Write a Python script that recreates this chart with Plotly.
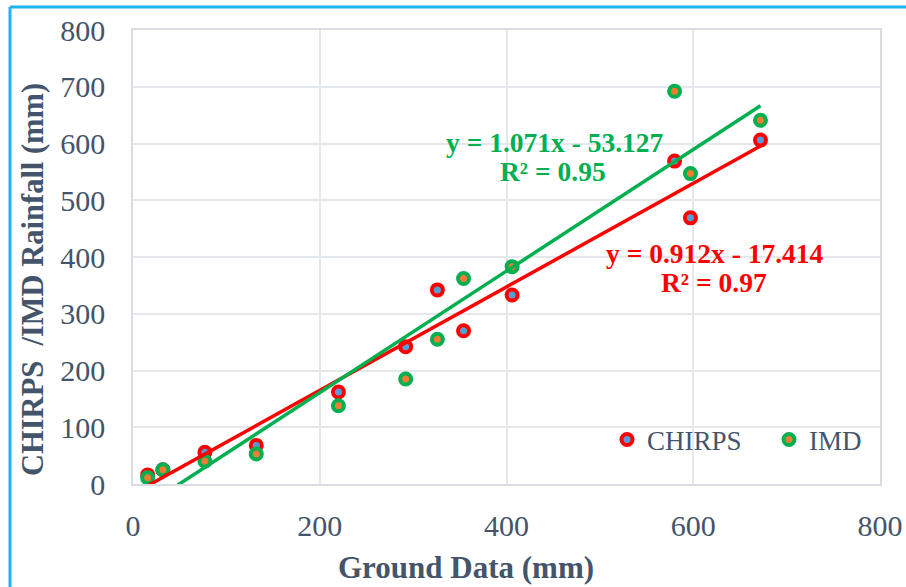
import plotly.graph_objects as go

# ---- data ----
ground = [15.7, 32, 77, 132, 220, 292, 326, 354, 406, 580, 597, 672]
chirps = [16, 25, 56, 68, 162, 242, 342, 270, 333, 569, 469, 606]
imd = [11, 25, 40, 53, 138, 185, 255, 362, 383, 692, 547, 641]

chirps_fit = (0.912, -17.414, 0.97)
imd_fit = (1.071, -53.127, 0.95)

x_ticks = [0, 200, 400, 600, 800]
y_ticks = [0, 100, 200, 300, 400, 500, 600, 700, 800]

RED = "#FF0000"
GREEN = "#00B050"
BLUE = "#5B9BD5"
ORANGE = "#ED7D31"
TXT = "#44546A"
FONT = "Liberation Serif"

xr = [min(ground), max(ground)]

def fit_line(p):
    return [p[0] * v + p[1] for v in xr]

def eq_text(p):
    sign = "-" if p[1] < 0 else "+"
    return f"y = {p[0]:.3f}x {sign} {abs(p[1]):.3f}"

fig = go.Figure()
fig.add_trace(go.Scatter(x=ground, y=chirps, mode="markers", name="CHIRPS",
                         marker=dict(size=11, color=BLUE, line=dict(color=RED, width=4))))
fig.add_trace(go.Scatter(x=ground, y=imd, mode="markers", name="IMD",
                         marker=dict(size=11, color=ORANGE, line=dict(color=GREEN, width=4))))
fig.add_trace(go.Scatter(x=xr, y=fit_line(chirps_fit), mode="lines", showlegend=False,
                         line=dict(color=RED, width=3.5), hoverinfo="skip"))
fig.add_trace(go.Scatter(x=xr, y=fit_line(imd_fit), mode="lines", showlegend=False,
                         line=dict(color=GREEN, width=3.5), hoverinfo="skip"))

L, R, T, B = 133, 26, 30, 103
W, H = 906, 587
pw, ph = W - L - R, H - T - B

def px(x):
    return (x - L) / pw

def py(y):
    return (H - B - y) / ph

ann = []
def add(text, x, y, color, size, bold=True, angle=0):
    ann.append(dict(text=f"<b>{text}</b>" if bold else text, x=px(x), y=py(y),
                    xref="paper", yref="paper", showarrow=False, textangle=angle,
                    xanchor="center", yanchor="middle",
                    font=dict(family=FONT, size=size, color=color)))

add(eq_text(imd_fit), 555, 142, GREEN, 27.5)
add(f"R² = {imd_fit[2]:.2f}", 553, 171, GREEN, 27.5)
add(eq_text(chirps_fit), 715, 254, RED, 27.5)
add(f"R² = {chirps_fit[2]:.2f}", 714, 282, RED, 27.5)
add("Ground Data (mm)", 466, 567, TXT, 31)
add("CHIRPS  /IMD Rainfall (mm)", 33, 280, TXT, 30.5, angle=-90)

axis_common = dict(showgrid=True, gridcolor="#E4E7EC", gridwidth=1.5, zeroline=False,
                   showline=True, linecolor="#D9DCE2", linewidth=1.5, mirror=True,
                   tickfont=dict(family=FONT, size=30, color=TXT), ticks="")

fig.update_layout(
    width=W, height=H,
    margin=dict(l=L, r=R, t=T, b=B, autoexpand=False),
    paper_bgcolor="white", plot_bgcolor="white",
    xaxis=dict(range=[0, 800], tickvals=x_ticks, ticklabelstandoff=14, **axis_common),
    yaxis=dict(range=[0, 800], tickvals=y_ticks, ticklabelstandoff=20, **axis_common),
    annotations=ann,
    showlegend=True,
    legend=dict(orientation="h", x=px(607), y=py(440), xanchor="left", yanchor="middle",
                font=dict(family=FONT, size=27, color=TXT), bgcolor="rgba(0,0,0,0)",
                entrywidth=117, entrywidthmode="pixels", itemwidth=30),
    shapes=[
        dict(type="line", xref="paper", yref="paper", x0=px(10), x1=px(W + 5), y0=py(7), y1=py(7),
             line=dict(color="#1EB4F0", width=3)),
        dict(type="line", xref="paper", yref="paper", x0=px(10), x1=px(10), y0=py(7), y1=py(H + 5),
             line=dict(color="#1EB4F0", width=3)),
    ],
)

fig.write_html("out.html")
